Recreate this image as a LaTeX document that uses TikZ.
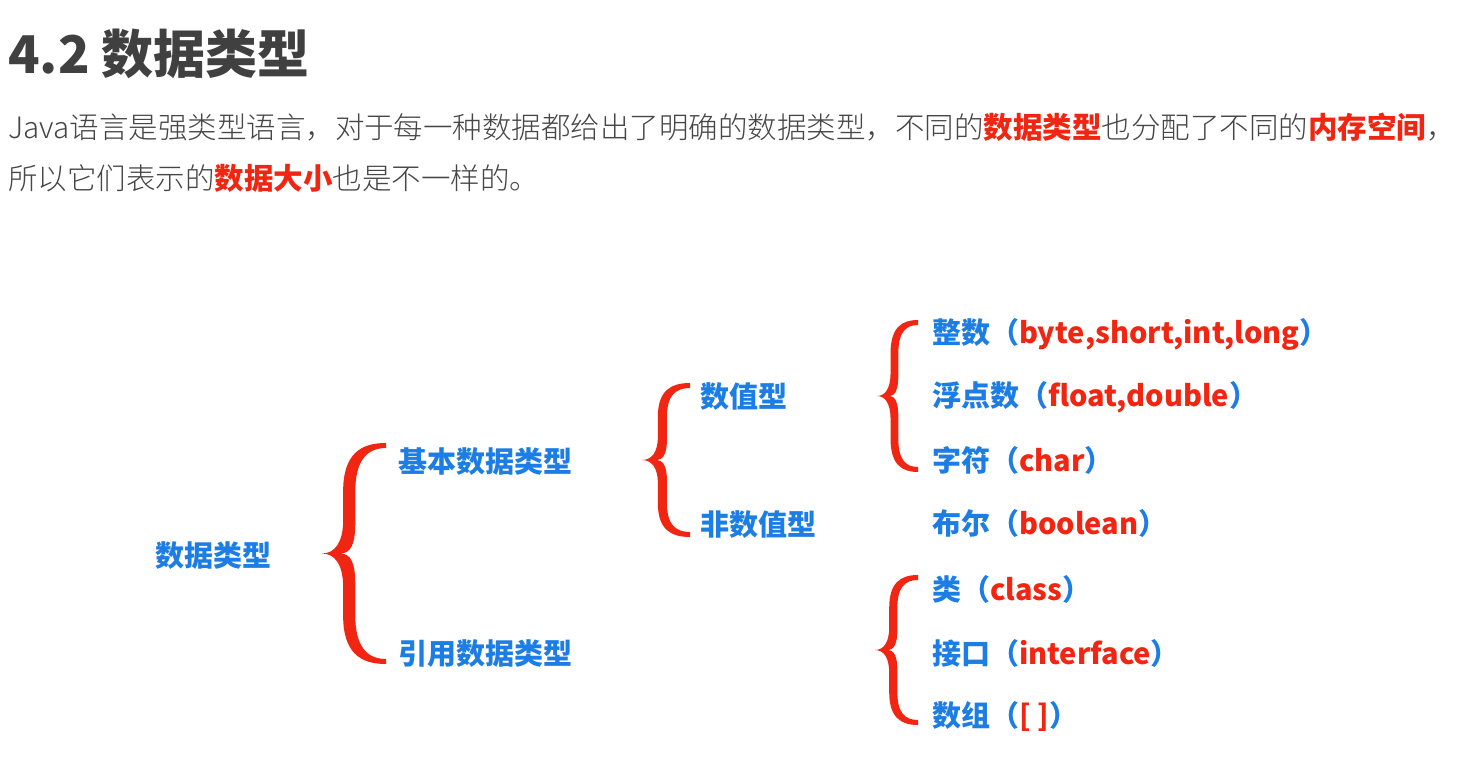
\documentclass[tikz,border=0pt]{standalone}
\usepackage{fontspec}
\setmainfont{Noto Sans CJK SC}
\IfFontExistsTF{Noto Sans CJK SC Light}
  {\newfontfamily\thinfont{Noto Sans CJK SC Light}}
  {\newfontfamily\thinfont{Noto Sans CJK SC}}
\usetikzlibrary{positioning}
\definecolor{titlegray}{RGB}{64,64,64}
\definecolor{textgray}{RGB}{70,70,70}
\definecolor{hlred}{RGB}{240,38,18}
\definecolor{labblue}{RGB}{28,126,228}
\newcommand{\hl}[1]{{\normalfont\bfseries\color{hlred}#1}}
\newcommand{\kw}[1]{\textcolor{hlred}{#1}}

\begin{document}
\begin{tikzpicture}[x=1pt, y=-1pt,
  lab/.style={anchor=west, inner sep=0pt, text=labblue, font=\bfseries\fontsize{29}{34}\selectfont},
  para/.style={anchor=west, inner sep=0pt, text=textgray, font=\thinfont\fontsize{29.5}{36}\selectfont},
  bracered/.style={fill=hlred}]
  \fill[white] (0,0) rectangle (1481,762);
  \useasboundingbox (0,0) rectangle (1481,762);
  % Heading
  \node[anchor=west, inner sep=0pt, text=titlegray, font=\bfseries\fontsize{52}{60}\selectfont] (title) at (8,54) {4.2 数据类型};
  % Intro text
  \node[para] (intro1) at (8,127) {Java语言是强类型语言，对于每一种数据都给出了明确的数据类型，不同的\hl{数据类型}也分配了不同的\hl{内存空间}，};
  \node[para] (intro2) at (8,178) {所以它们表示的\hl{数据大小}也是不一样的。};
  % Tree labels
  \node[lab] (root) at (155,556) {数据类型};
  \node[lab] (basic) at (398,462) {基本数据类型};
  \node[lab] (ref) at (398,654) {引用数据类型};
  \node[lab] (num) at (700,397) {数值型};
  \node[lab] (nonnum) at (700,525) {非数值型};
  \node[lab] (int) at (932,334) {整数（\kw{byte,short,int,long}）};
  \node[lab] (float) at (932,397) {浮点数（\kw{float,double}）};
  \node[lab] (char) at (932,460) {字符（\kw{char}）};
  \node[lab] (bool) at (932,523) {布尔（\kw{boolean}）};
  \node[lab] (class) at (932,589) {类（\kw{class}）};
  \node[lab] (iface) at (932,653) {接口（\kw{interface}）};
  \node[lab] (array) at (932,717) {数组（\kw{[ ]}）};
  % Braces: left x / right x / top y / bottom y
  \foreach \L/\R/\T/\B in {322/386/443/664, 642/690/383/537, 877/918/320/472, 875/918/575/725}{
    \pgfmathsetmacro{\W}{\R-\L}
    \pgfmathsetmacro{\H}{\B-\T}
    \pgfmathsetmacro{\M}{(\T+\B)/2}
    \pgfmathsetmacro{\a}{\L+0.33*\W}
    \pgfmathsetmacro{\b}{\L+0.52*\W}
    \fill[bracered] (\R,\T)
      .. controls ({\R-0.4*\W},\T) and (\a,{\T+0.05*\H}) .. (\a,{\T+0.22*\H})
      -- (\a,{\M-0.15*\H})
      .. controls (\a,{\M-0.05*\H}) and ({\L+0.2*\W},\M) .. (\L,\M)
      .. controls ({\L+0.2*\W},\M) and (\a,{\M+0.05*\H}) .. (\a,{\M+0.15*\H})
      -- (\a,{\B-0.22*\H})
      .. controls (\a,{\B-0.05*\H}) and ({\R-0.4*\W},\B) .. (\R,\B)
      -- (\R,{\B-5})
      .. controls ({\R-0.3*\W},{\B-5}) and (\b,{\B-0.08*\H}) .. (\b,{\B-0.22*\H})
      -- (\b,{\M+0.14*\H})
      .. controls (\b,{\M+0.04*\H}) and ({\L+0.45*\W},\M) .. ({\L+0.28*\W},\M)
      .. controls ({\L+0.45*\W},\M) and (\b,{\M-0.04*\H}) .. (\b,{\M-0.14*\H})
      -- (\b,{\T+0.22*\H})
      .. controls (\b,{\T+0.08*\H}) and ({\R-0.3*\W},{\T+5}) .. (\R,{\T+5})
      -- cycle;
  }
\end{tikzpicture}
\end{document}
